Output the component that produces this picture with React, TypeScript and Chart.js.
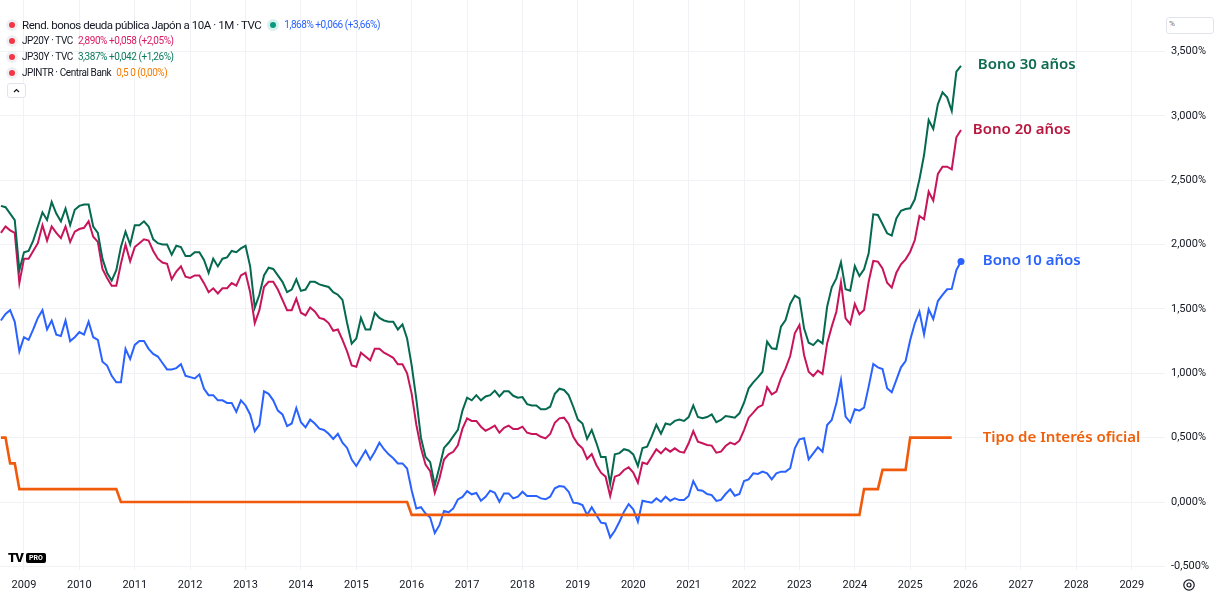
import React, { useEffect, useRef } from "react";
import { Chart, registerables } from "chart.js";

Chart.register(...registerables);

// Monthly series, first value = August 2008
const START_YEAR = 2008;
const START_MONTH = 8;

const yield10y = [
  1.41, 1.46, 1.49, 1.40, 1.17,
  1.28, 1.26, 1.34, 1.43, 1.49, 1.34, 1.41, 1.30, 1.29, 1.41, 1.25, 1.28,
  1.32, 1.30, 1.40, 1.28, 1.26, 1.09, 1.06, 0.98, 0.93, 0.93, 1.19, 1.11,
  1.22, 1.25, 1.25, 1.19, 1.15, 1.13, 1.08, 1.03, 1.03, 1.04, 1.07, 0.98,
  0.97, 0.96, 0.99, 0.88, 0.83, 0.83, 0.79, 0.79, 0.77, 0.77, 0.70, 0.79,
  0.75, 0.68, 0.55, 0.60, 0.86, 0.84, 0.79, 0.71, 0.68, 0.59, 0.61, 0.73,
  0.62, 0.58, 0.64, 0.61, 0.57, 0.56, 0.53, 0.49, 0.53, 0.46, 0.42, 0.33,
  0.28, 0.34, 0.40, 0.33, 0.39, 0.46, 0.41, 0.37, 0.34, 0.30, 0.30, 0.26,
  0.09, -0.05, -0.04, -0.09, -0.12, -0.24, -0.18, -0.07, -0.08, -0.05, 0.02, 0.04,
  0.085, 0.06, 0.07, 0.01, 0.04, 0.088, 0.072, 0.002, 0.067, 0.067, 0.028, 0.041,
  0.080, 0.047, 0.047, 0.047, 0.028, 0.021, 0.041, 0.106, 0.124, 0.119, 0.080, -0.005,
  -0.010, -0.023, -0.101, -0.041, -0.101, -0.160, -0.166, -0.275, -0.223, -0.153, -0.075, -0.016,
  -0.057, -0.153, 0.010, 0.002, -0.005, 0.028, 0.002, 0.041, 0.010, 0.028, 0.015, 0.015,
  0.047, 0.163, 0.093, 0.088, 0.062, 0.054, 0.008, 0.016, 0.062, 0.098, 0.049, 0.062,
  0.163, 0.176, 0.223, 0.218, 0.236, 0.223, 0.176, 0.223, 0.236, 0.236, 0.262, 0.417,
  0.487, 0.495, 0.331, 0.378, 0.425, 0.391, 0.598, 0.637, 0.766, 0.948, 0.663, 0.619,
  0.720, 0.710, 0.733, 0.896, 1.072, 1.046, 1.033, 0.883, 0.852, 0.948, 1.046, 1.095,
  1.258, 1.388, 1.478, 1.302, 1.497, 1.421, 1.561, 1.608, 1.652, 1.655, 1.802, 1.868,
];

const yield20y = [
  2.09, 2.14, 2.11, 2.09, 1.70,
  1.89, 1.89, 1.95, 2.01, 2.15, 2.03, 2.14, 2.09, 2.05, 2.14, 2.02, 2.10,
  2.12, 2.13, 2.18, 2.06, 2.02, 1.81, 1.74, 1.68, 1.68, 1.85, 2.00, 1.87,
  1.98, 2.01, 2.04, 2.03, 1.95, 1.89, 1.86, 1.85, 1.73, 1.79, 1.83, 1.75,
  1.74, 1.76, 1.76, 1.70, 1.63, 1.66, 1.62, 1.66, 1.66, 1.70, 1.68, 1.76,
  1.78, 1.63, 1.39, 1.49, 1.67, 1.71, 1.71, 1.65, 1.57, 1.49, 1.49, 1.58,
  1.47, 1.45, 1.51, 1.48, 1.43, 1.42, 1.39, 1.33, 1.34, 1.26, 1.17, 1.06,
  1.05, 1.16, 1.13, 1.10, 1.19, 1.19, 1.16, 1.14, 1.12, 1.07, 1.07, 1.00,
  0.84, 0.60, 0.42, 0.29, 0.24, 0.07, 0.18, 0.33, 0.37, 0.39, 0.44, 0.57,
  0.65, 0.63, 0.63, 0.585, 0.554, 0.572, 0.593, 0.538, 0.577, 0.593, 0.567, 0.567,
  0.585, 0.538, 0.528, 0.528, 0.507, 0.494, 0.528, 0.616, 0.650, 0.655, 0.606, 0.507,
  0.450, 0.417, 0.334, 0.373, 0.288, 0.228, 0.197, 0.047, 0.197, 0.210, 0.249, 0.269,
  0.228, 0.150, 0.306, 0.295, 0.352, 0.409, 0.378, 0.417, 0.391, 0.417, 0.391, 0.383,
  0.456, 0.551, 0.468, 0.456, 0.443, 0.438, 0.383, 0.391, 0.435, 0.461, 0.448, 0.476,
  0.559, 0.655, 0.694, 0.735, 0.753, 0.891, 0.836, 0.857, 0.961, 1.038, 1.134, 1.310,
  1.375, 1.142, 1.012, 0.979, 1.020, 0.994, 1.232, 1.362, 1.478, 1.706, 1.427, 1.383,
  1.538, 1.458, 1.491, 1.711, 1.872, 1.867, 1.815, 1.703, 1.665, 1.781, 1.846, 1.885,
  1.944, 2.035, 2.221, 2.196, 2.410, 2.340, 2.548, 2.604, 2.604, 2.584, 2.833, 2.890,
];

const yield30y = [
  2.30, 2.29, 2.24, 2.19, 1.80,
  1.94, 1.95, 2.03, 2.14, 2.25, 2.19, 2.33, 2.24, 2.18, 2.28, 2.15, 2.27,
  2.30, 2.31, 2.31, 2.14, 2.09, 1.89, 1.78, 1.72, 1.80, 1.98, 2.10, 2.00,
  2.15, 2.15, 2.18, 2.14, 2.04, 2.01, 2.00, 2.00, 1.92, 1.99, 1.98, 1.91,
  1.91, 1.94, 1.94, 1.88, 1.78, 1.89, 1.83, 1.89, 1.90, 1.95, 1.94, 1.97,
  1.99, 1.83, 1.51, 1.61, 1.76, 1.82, 1.81, 1.76, 1.71, 1.63, 1.65, 1.73,
  1.64, 1.65, 1.71, 1.71, 1.69, 1.68, 1.67, 1.63, 1.61, 1.57, 1.39, 1.23,
  1.27, 1.43, 1.34, 1.34, 1.47, 1.43, 1.41, 1.40, 1.40, 1.34, 1.38, 1.27,
  1.06, 0.80, 0.50, 0.35, 0.31, 0.13, 0.27, 0.42, 0.46, 0.51, 0.56, 0.71,
  0.81, 0.79, 0.83, 0.79, 0.82, 0.83, 0.865, 0.82, 0.86, 0.86, 0.825, 0.81,
  0.815, 0.76, 0.75, 0.75, 0.72, 0.72, 0.74, 0.84, 0.88, 0.87, 0.83, 0.74,
  0.64, 0.61, 0.49, 0.56, 0.46, 0.35, 0.35, 0.14, 0.37, 0.38, 0.41, 0.40,
  0.37, 0.28, 0.42, 0.43, 0.51, 0.60, 0.53, 0.61, 0.60, 0.63, 0.64, 0.63,
  0.66, 0.75, 0.66, 0.65, 0.66, 0.68, 0.62, 0.637, 0.668, 0.663, 0.655, 0.689,
  0.771, 0.883, 0.930, 0.968, 1.012, 1.245, 1.194, 1.188, 1.362, 1.414, 1.538, 1.603,
  1.582, 1.349, 1.237, 1.219, 1.258, 1.232, 1.517, 1.667, 1.737, 1.862, 1.652, 1.641,
  1.833, 1.755, 1.807, 1.931, 2.234, 2.229, 2.159, 2.087, 2.069, 2.203, 2.262, 2.276,
  2.281, 2.351, 2.506, 2.695, 2.967, 2.897, 3.091, 3.182, 3.143, 3.037, 3.342, 3.387,
];

// Bank of Japan policy rate, Aug 2008 - Oct 2025
const policyRate = [
  0.5, 0.5, 0.3, 0.3, 0.1,
  0.1, 0.1, 0.1, 0.1, 0.1, 0.1, 0.1, 0.1, 0.1, 0.1, 0.1, 0.1,
  0.1, 0.1, 0.1, 0.1, 0.1, 0.1, 0.1, 0.1, 0.1, 0, 0, 0,
  0, 0, 0, 0, 0, 0, 0, 0, 0, 0, 0, 0,
  0, 0, 0, 0, 0, 0, 0, 0, 0, 0, 0, 0,
  0, 0, 0, 0, 0, 0, 0, 0, 0, 0, 0, 0,
  0, 0, 0, 0, 0, 0, 0, 0, 0, 0, 0, 0,
  0, 0, 0, 0, 0, 0, 0, 0, 0, 0, 0, 0,
  -0.1, -0.1, -0.1, -0.1, -0.1, -0.1, -0.1, -0.1, -0.1, -0.1, -0.1, -0.1,
  -0.1, -0.1, -0.1, -0.1, -0.1, -0.1, -0.1, -0.1, -0.1, -0.1, -0.1, -0.1,
  -0.1, -0.1, -0.1, -0.1, -0.1, -0.1, -0.1, -0.1, -0.1, -0.1, -0.1, -0.1,
  -0.1, -0.1, -0.1, -0.1, -0.1, -0.1, -0.1, -0.1, -0.1, -0.1, -0.1, -0.1,
  -0.1, -0.1, -0.1, -0.1, -0.1, -0.1, -0.1, -0.1, -0.1, -0.1, -0.1, -0.1,
  -0.1, -0.1, -0.1, -0.1, -0.1, -0.1, -0.1, -0.1, -0.1, -0.1, -0.1, -0.1,
  -0.1, -0.1, -0.1, -0.1, -0.1, -0.1, -0.1, -0.1, -0.1, -0.1, -0.1, -0.1,
  -0.1, -0.1, -0.1, -0.1, -0.1, -0.1, -0.1, -0.1, -0.1, -0.1, -0.1, -0.1,
  -0.1, -0.1, 0.1, 0.1, 0.1, 0.1, 0.25, 0.25, 0.25, 0.25, 0.25, 0.25,
  0.5, 0.5, 0.5, 0.5, 0.5, 0.5, 0.5, 0.5, 0.5, 0.5,
];

const xTickYears = [
  2009, 2010, 2011, 2012, 2013, 2014, 2015, 2016, 2017, 2018, 2019,
  2020, 2021, 2022, 2023, 2024, 2025, 2026, 2027, 2028, 2029,
];
const yTickValues = [-0.5, 0, 0.5, 1, 1.5, 2, 2.5, 3, 3.5];

const seriesLabels = [
  { text: "Bono 30 años", x: 2026.22, y: 3.394, color: "#0c6b50" },
  { text: "Bono 20 años", x: 2026.13, y: 2.889, color: "#b8173f" },
  { text: "Bono 10 años", x: 2026.31, y: 1.872, color: "#2962ff" },
  { text: "Tipo de Interés oficial", x: 2026.31, y: 0.497, color: "#f0600a" },
];

const X_MIN = 2008.567;
const X_MAX = 2029.6;
const Y_MIN = -0.528;
const Y_MAX = 3.899;

const BLUE = "#2962ff";
const RED20 = "#c8145a";
const GREEN30 = "#05694f";
const ORANGE = "#f05a0a";
const GRID = "#f0f2f5";
const TEXT = "#131722";
const FONT = "Roboto, 'Noto Sans', sans-serif";

const monthX = (i: number) => START_YEAR + (START_MONTH - 1 + i) / 12;
const toPoints = (arr: number[]) => arr.map((v, i) => ({ x: monthX(i), y: v }));

const labelPlugin = {
  id: "seriesLabels",
  afterDatasetsDraw(chart: any) {
    const { ctx, scales } = chart;
    ctx.save();
    ctx.font = `600 15px 'Noto Sans', Roboto, sans-serif`;
    ctx.textAlign = "left";
    ctx.textBaseline = "middle";
    seriesLabels.forEach((l) => {
      ctx.fillStyle = l.color;
      ctx.fillText(l.text, scales.x.getPixelForValue(l.x), scales.y.getPixelForValue(l.y));
    });
    ctx.restore();
  },
};

function Dot({ color, halo }: { color: string; halo: string }) {
  return (
    <span style={{ position: "relative", display: "inline-block", flex: "none", width: 12, height: 12, borderRadius: 6, background: halo }}>
      <span style={{ position: "absolute", left: 3, top: 3, width: 6, height: 6, borderRadius: 3, background: color }} />
    </span>
  );
}

function LegendRow({ top, children }: any) {
  return (
    <div style={{ position: "absolute", left: 6, top: top - 8, height: 16, display: "flex", alignItems: "center", whiteSpace: "nowrap" }}>
      <Dot color="#f23645" halo="#eef0f4" />
      {children}
    </div>
  );
}

const titleStyle = (size: number, spacing: number) => ({
  marginLeft: 4,
  fontSize: size,
  letterSpacing: spacing,
  color: TEXT,
  lineHeight: "16px",
});
const valueStyle = (color: string) => ({
  marginLeft: 5,
  fontSize: 10,
  letterSpacing: -0.45,
  color,
  lineHeight: "16px",
});

export default function App() {
  const ref = useRef<HTMLCanvasElement>(null);

  useEffect(() => {
    document.body.style.margin = "0";
    if (!ref.current) return;
    const chart = new Chart(ref.current, {
      type: "line",
      data: {
        datasets: [
          {
            label: "JPINTR",
            data: toPoints(policyRate),
            borderColor: ORANGE,
            borderWidth: 2.6,
            pointRadius: 0,
            tension: 0,
          },
          {
            label: "JP30Y",
            data: toPoints(yield30y),
            borderColor: GREEN30,
            borderWidth: 2,
            pointRadius: 0,
            tension: 0,
          },
          {
            label: "JP20Y",
            data: toPoints(yield20y),
            borderColor: RED20,
            borderWidth: 2,
            pointRadius: 0,
            tension: 0,
          },
          {
            label: "JP10Y",
            data: toPoints(yield10y),
            borderColor: BLUE,
            backgroundColor: BLUE,
            borderWidth: 2,
            pointRadius: (c: any) => (c.dataIndex === yield10y.length - 1 ? 3.5 : 0),
            pointBorderWidth: 0,
            pointBackgroundColor: BLUE,
            tension: 0,
          },
        ],
      },
      options: {
        animation: false,
        responsive: true,
        maintainAspectRatio: false,
        layout: { padding: 0, autoPadding: false },
        plugins: { legend: { display: false }, tooltip: { enabled: false } },
        scales: {
          x: {
            type: "linear",
            min: X_MIN,
            max: X_MAX,
            afterBuildTicks: (s: any) => {
              s.ticks = xTickYears.map((v) => ({ value: v }));
            },
            afterFit: (s: any) => {
              s.height = 41;
              s.paddingLeft = 0;
              s.paddingRight = 0;
            },
            ticks: {
              autoSkip: false,
              maxRotation: 0,
              padding: 9,
              color: TEXT,
              font: { family: FONT, size: 11 },
              callback: (v: any) => String(v),
            },
            grid: { color: GRID, drawTicks: false, lineWidth: 1 },
            border: { display: false },
          },
          y: {
            position: "right",
            min: Y_MIN,
            max: Y_MAX,
            afterBuildTicks: (s: any) => {
              s.ticks = yTickValues.map((v) => ({ value: v }));
            },
            afterFit: (s: any) => {
              s.width = 62;
              s.paddingTop = 0;
              s.paddingBottom = 0;
            },
            ticks: {
              padding: 6,
              color: TEXT,
              font: { family: FONT, size: 11 },
              callback: (v: any) => Number(v).toFixed(3).replace(".", ",") + "%",
            },
            grid: { color: GRID, drawTicks: false, lineWidth: 1 },
            border: { display: false },
          },
        },
      },
      plugins: [labelPlugin],
    });
    return () => chart.destroy();
  }, []);

  return (
    <div style={{ position: "absolute", left: 0, top: 0, width: 1227, height: 611, fontFamily: FONT, background: "#ffffff", overflow: "hidden" }}>
      <div style={{ position: "absolute", left: 0, top: 0, width: 1227, height: 611 }}>
        <canvas ref={ref} />
      </div>

      <LegendRow top={25}>
        <span style={titleStyle(11.5, -0.45)}>Rend. bonos deuda pública Japón a 10A · 1M · TVC</span>
        <span style={{ marginLeft: 6, display: "inline-flex" }}>
          <Dot color="#089981" halo="#d9f1ec" />
        </span>
        <span style={valueStyle("#2962ff")}>1,868% +0,066 (+3,66%)</span>
      </LegendRow>
      <LegendRow top={41}>
        <span style={titleStyle(10, -0.4)}>JP20Y · TVC</span>
        <span style={valueStyle("#d81b60")}>2,890% +0,058 (+2,05%)</span>
      </LegendRow>
      <LegendRow top={57}>
        <span style={titleStyle(10, -0.4)}>JP30Y · TVC</span>
        <span style={valueStyle("#0b7a5c")}>3,387% +0,042 (+1,26%)</span>
      </LegendRow>
      <LegendRow top={73}>
        <span style={titleStyle(10, -0.4)}>JPINTR · Central Bank</span>
        <span style={valueStyle("#f57c00")}>0,5 0 (0,00%)</span>
      </LegendRow>

      <div style={{ position: "absolute", left: 7, top: 83, width: 17, height: 13, border: "1px solid #e0e3eb", borderRadius: 3, background: "#fff" }}>
        <svg width="17" height="13" style={{ position: "absolute", left: 0, top: 0 }}>
          <polyline points="6,8 8.5,5.5 11,8" fill="none" stroke="#131722" strokeWidth="1.2" />
        </svg>
      </div>

      <div style={{ position: "absolute", left: 1166, top: 17, width: 46, height: 15, border: "1px solid #e0e3eb", borderRadius: 3, background: "#fff" }}>
        <span style={{ position: "absolute", left: 2, top: 1, fontSize: 8, color: "#6a6d78" }}>%</span>
      </div>

      <svg width="14" height="14" style={{ position: "absolute", left: 1182, top: 578 }}>
        <circle cx="7" cy="7" r="5.2" fill="none" stroke="#131722" strokeWidth="1.2" />
        <circle cx="7" cy="7" r="2" fill="none" stroke="#131722" strokeWidth="1.2" />
      </svg>

      <div style={{ position: "absolute", left: 8, top: 552, height: 12, display: "flex", alignItems: "center" }}>
        <span style={{ fontSize: 13, fontWeight: 900, color: "#000", letterSpacing: -1, lineHeight: "12px" }}>TV</span>
        <span style={{ marginLeft: 3, background: "#000", color: "#fff", fontSize: 7, fontWeight: 700, padding: "1px 3px", borderRadius: 2, lineHeight: "8px" }}>PRO</span>
      </div>
    </div>
  );
}
